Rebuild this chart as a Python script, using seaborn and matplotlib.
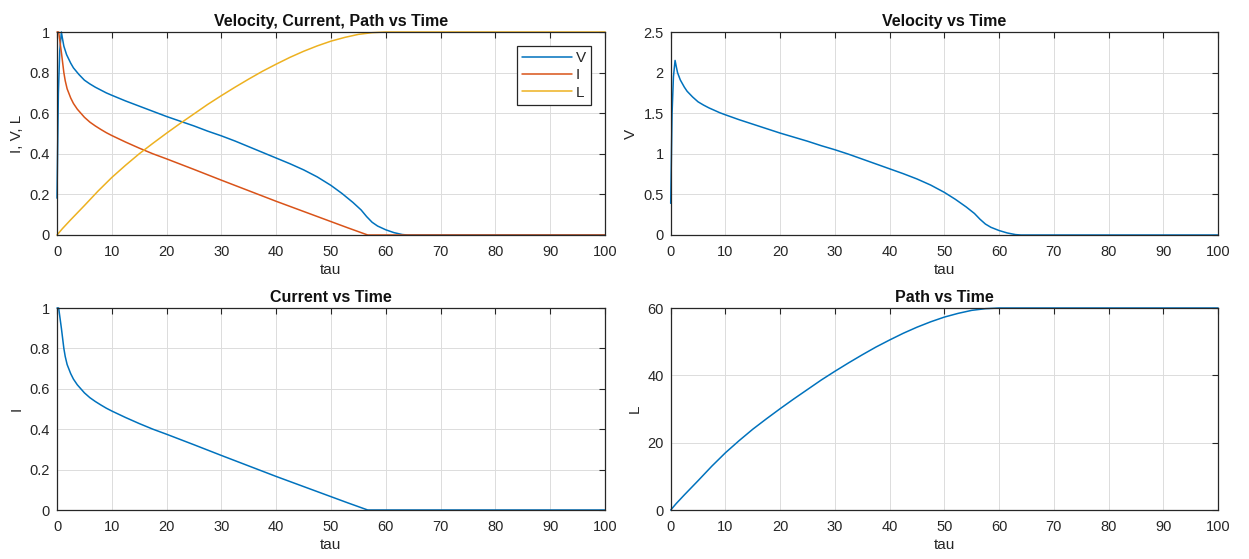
import numpy as np
import pandas as pd
import matplotlib
matplotlib.use("Agg")
import matplotlib.pyplot as plt
from matplotlib.ticker import FuncFormatter
import seaborn as sns

# values
tau_v = [0, 0.25, 0.5, 0.8, 1.0, 1.25, 1.75, 2.5, 3.0, 4.0, 5.0, 6.0, 7.0, 8.0,
         9.0, 10, 12.5, 15, 17.5, 20, 22.5, 25, 27.5, 30, 32.5, 35, 37.5, 40,
         42.5, 45, 47.5, 50, 52, 54, 55.5, 56.5, 57.5, 58.5, 60, 61.5, 63, 64, 100]
vel = [0.39, 1.5, 1.95, 2.15, 2.08, 2.0, 1.91, 1.82, 1.77, 1.70, 1.64, 1.60,
       1.565, 1.535, 1.505, 1.48, 1.42, 1.365, 1.31, 1.255, 1.205, 1.155, 1.10,
       1.05, 0.995, 0.935, 0.875, 0.815, 0.755, 0.69, 0.615, 0.525, 0.44, 0.345,
       0.265, 0.195, 0.135, 0.095, 0.055, 0.025, 0.005, 0.0, 0.0]

tau_i = [0, 0.3, 0.8, 1.25, 1.5, 1.85, 2.5, 3.0, 3.7, 5.0, 6.0, 7.0, 8.0, 9.0,
         10, 12.5, 15, 17.5, 20, 22.5, 25, 30, 35, 40, 45, 50, 53, 56.7, 100]
cur = [1.0, 1.0, 0.90, 0.80, 0.76, 0.72, 0.675, 0.648, 0.62, 0.58, 0.556, 0.537,
       0.52, 0.504, 0.49, 0.458, 0.428, 0.40, 0.375, 0.349, 0.323, 0.27, 0.218,
       0.166, 0.116, 0.066, 0.036, 0.0, 0.0]

tau_l = [0, 1, 2.5, 5, 7.5, 10, 12.5, 15, 17.5, 20, 22.5, 25, 27.5, 30, 32.5,
         35, 37.5, 40, 42.5, 45, 47.5, 50, 52.5, 55, 57.5, 60, 100]
path = [0, 1.9, 4.5, 8.7, 13.0, 17.0, 20.6, 24.0, 27.1, 30.1, 33.0, 35.8, 38.6,
        41.2, 43.7, 46.1, 48.4, 50.5, 52.5, 54.3, 55.9, 57.3, 58.4, 59.3, 59.8,
        60.0, 60.0]

C_V = "#0072BD"
C_I = "#D95319"
C_L = "#EDB120"
DARK = "#262626"

sns.set_style("white")
plt.rcParams["font.family"] = ["Liberation Sans", "DejaVu Sans"]
plt.rcParams["axes.edgecolor"] = DARK
plt.rcParams["xtick.color"] = DARK
plt.rcParams["ytick.color"] = DARK
plt.rcParams["axes.labelcolor"] = DARK

fig = plt.figure(figsize=(12.49, 5.59), dpi=100)
W, H = 1249, 559


def make_ax(x0, y0, x1, y1):
    return fig.add_axes([x0 / W, 1 - y1 / H, (x1 - x0) / W, (y1 - y0) / H])


def style_ax(ax, title, ylabel, yticks):
    ax.set_xlim(0, 100)
    ax.set_xticks(np.arange(0, 101, 10))
    ax.set_ylim(yticks[0], yticks[-1])
    ax.set_yticks(yticks)
    ax.yaxis.set_major_formatter(FuncFormatter(lambda v, p: f"{v:g}"))
    ax.grid(True, color="#dcdcdc", linewidth=0.7)
    ax.set_axisbelow(True)
    ax.tick_params(direction="in", top=True, right=True, length=4,
                   width=0.8, labelsize=10.5)
    ax.tick_params(axis="x", pad=7)
    ax.tick_params(axis="y", pad=5)
    for s in ax.spines.values():
        s.set_linewidth(0.9)
        s.set_color(DARK)
    ax.set_title(title, fontsize=11.5, fontweight="bold", color="#111111", pad=4)
    ax.set_xlabel("tau", fontsize=11, labelpad=3)
    ax.set_ylabel(ylabel, fontsize=11, labelpad=4)
    for ln in ax.get_lines():
        ln.set_clip_on(False)


ax1 = make_ax(57, 32, 605, 235)
ax2 = make_ax(670.7, 32, 1218, 235)
ax3 = make_ax(57, 308, 605, 510)
ax4 = make_ax(670.7, 308, 1218, 510)

# combined normalised plot
sns.lineplot(x=tau_v, y=np.array(vel) / max(vel), ax=ax1, color=C_V,
             linewidth=1.1, label="V")
sns.lineplot(x=tau_i, y=cur, ax=ax1, color=C_I, linewidth=1.1, label="I")
sns.lineplot(x=tau_l, y=np.array(path) / max(path), ax=ax1, color=C_L,
             linewidth=1.1, label="L")
style_ax(ax1, "Velocity, Current, Path vs Time", "I, V, L",
         [0, 0.2, 0.4, 0.6, 0.8, 1.0])
leg = ax1.legend(loc="upper right", bbox_to_anchor=(0.9745, 0.9325),
                 borderaxespad=0, fontsize=11, handlelength=3.3,
                 handletextpad=0.2, labelspacing=0.22, borderpad=0.35,
                 fancybox=False, framealpha=1)
leg.get_frame().set_edgecolor(DARK)
leg.get_frame().set_linewidth(0.9)

sns.lineplot(x=tau_v, y=vel, ax=ax2, color=C_V, linewidth=1.1)
style_ax(ax2, "Velocity vs Time", "V", [0, 0.5, 1.0, 1.5, 2.0, 2.5])

sns.lineplot(x=tau_i, y=cur, ax=ax3, color=C_V, linewidth=1.1)
style_ax(ax3, "Current vs Time", "I", [0, 0.2, 0.4, 0.6, 0.8, 1.0])

sns.lineplot(x=tau_l, y=path, ax=ax4, color=C_V, linewidth=1.1)
style_ax(ax4, "Path vs Time", "L", [0, 20, 40, 60])

fig.savefig("out.png", dpi=100, facecolor="white")
